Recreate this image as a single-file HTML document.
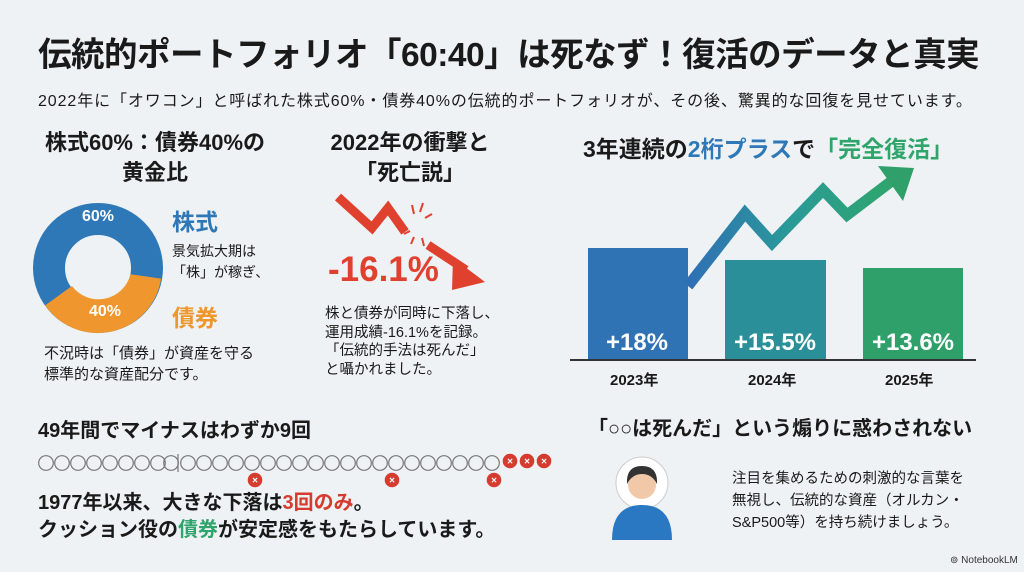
<!DOCTYPE html>
<html><head><meta charset="utf-8"><style>
body{margin:0;width:1024px;height:572px;background:#eef2f4;font-family:"Liberation Sans","Noto Sans CJK JP",sans-serif;color:#1a1a1a;position:relative;overflow:hidden}
.a{position:absolute;white-space:nowrap}
</style></head><body>
<div class="a" style="left:38px;top:27px;font-size:33.5px;font-weight:700;letter-spacing:-0.5px">伝統的ポートフォリオ「60:40」は死なず！復活のデータと真実</div>
<div class="a" style="left:38px;top:87px;font-size:16px;letter-spacing:0.9px">2022年に「オワコン」と呼ばれた株式60%・債券40%の伝統的ポートフォリオが、その後、驚異的な回復を見せています。</div>

<div class="a" style="left:30px;top:128px;font-size:22px;font-weight:700;text-align:center;line-height:30px;width:250px">株式60%：債券40%の<br>黄金比</div>
<svg class="a" style="left:0;top:0" width="1024" height="572">
<circle cx="98" cy="268" r="49" fill="none" stroke="#2f78b7" stroke-width="32"/>
<path d="M161.1,278.6 A64,64 0 0 1 45.1,305.4 L72,286 A33,33 0 0 0 130.5,274.2 Z" fill="#f0962e"/>
<text x="82" y="221" font-size="16" font-weight="700" fill="#fff" font-family="Liberation Sans">60%</text>
<text x="89" y="316" font-size="16" font-weight="700" fill="#fff" font-family="Liberation Sans">40%</text>
<path d="M338,197 L372,228 L388,208 L405,232" fill="none" stroke="#e0412f" stroke-width="9" stroke-linejoin="miter"/>
<path d="M428,245 L466,270" fill="none" stroke="#e0412f" stroke-width="9"/>
<polygon points="453,258 485,282 452,290" fill="#e0412f"/>
<g stroke="#e0412f" stroke-width="2"><line x1="412" y1="205" x2="414" y2="214"/><line x1="423" y1="203" x2="420" y2="212"/><line x1="432" y1="214" x2="425" y2="218"/><line x1="404" y1="234" x2="410" y2="231"/><line x1="411" y1="244" x2="414" y2="237"/><line x1="424" y1="246" x2="422" y2="238"/></g>
<defs><linearGradient id="g" x1="0" x2="1"><stop offset="0" stop-color="#2f6fb5"/><stop offset="0.5" stop-color="#2a9a98"/><stop offset="1" stop-color="#2fa56c"/></linearGradient></defs>
<rect x="588" y="248" width="100" height="112" fill="#2f73b5"/>
<rect x="725" y="260" width="101" height="100" fill="#2a8f98"/>
<rect x="863" y="268" width="100" height="92" fill="#2fa06a"/>
<line x1="570" y1="360" x2="976" y2="360" stroke="#333" stroke-width="2"/>
<polyline points="688,286 745,213 772,243 823,190 847,215 893,180" fill="none" stroke="url(#g)" stroke-width="11" stroke-linejoin="miter"/>
<polygon points="878,166 914,168 903,201" fill="#2fa06a"/>
<g font-size="24" font-weight="700" fill="#fff" text-anchor="middle" font-family="Liberation Sans">
<text x="637" y="350">+18%</text><text x="775" y="350">+15.5%</text><text x="913" y="350">+13.6%</text></g>
<g fill="none" stroke="#777" stroke-width="1.2">
<circle cx="46" cy="463" r="7.3"/><circle cx="62" cy="463" r="7.3"/><circle cx="78" cy="463" r="7.3"/><circle cx="94" cy="463" r="7.3"/><circle cx="110" cy="463" r="7.3"/><circle cx="126" cy="463" r="7.3"/><circle cx="142" cy="463" r="7.3"/><circle cx="158" cy="463" r="7.3"/><circle cx="171" cy="463" r="7.3"/>
<line x1="178" y1="454" x2="178" y2="472"/>
<circle cx="188" cy="463" r="7.3"/><circle cx="204" cy="463" r="7.3"/><circle cx="220" cy="463" r="7.3"/><circle cx="236" cy="463" r="7.3"/><circle cx="252" cy="463" r="7.3"/><circle cx="268" cy="463" r="7.3"/><circle cx="284" cy="463" r="7.3"/><circle cx="300" cy="463" r="7.3"/><circle cx="316" cy="463" r="7.3"/><circle cx="332" cy="463" r="7.3"/><circle cx="348" cy="463" r="7.3"/><circle cx="364" cy="463" r="7.3"/><circle cx="380" cy="463" r="7.3"/><circle cx="396" cy="463" r="7.3"/><circle cx="412" cy="463" r="7.3"/><circle cx="428" cy="463" r="7.3"/><circle cx="444" cy="463" r="7.3"/><circle cx="460" cy="463" r="7.3"/><circle cx="476" cy="463" r="7.3"/><circle cx="492" cy="463" r="7.3"/>
</g>
<g fill="#d63b2f"><circle cx="510" cy="461" r="7.3"/><circle cx="527" cy="461" r="7.3"/><circle cx="544" cy="461" r="7.3"/><circle cx="255" cy="480" r="7.3"/><circle cx="392" cy="480" r="7.3"/><circle cx="494" cy="480" r="7.3"/></g>
<g fill="#fff" font-size="10" font-weight="700" text-anchor="middle" font-family="Liberation Sans"><text x="510" y="464.5">×</text><text x="527" y="464.5">×</text><text x="544" y="464.5">×</text><text x="255" y="483.5">×</text><text x="392" y="483.5">×</text><text x="494" y="483.5">×</text></g>
<circle cx="642" cy="483" r="26" fill="#fff" stroke="#ccc"/>
<path d="M612,540 Q612,505 642,505 Q672,505 672,540 Z" fill="#2a78c2"/>
<circle cx="642" cy="485" r="14" fill="#f2c9a8"/>
<path d="M627,484 Q626,466 642,466 Q658,466 657,484 Q652,474 642,474 Q632,474 627,484Z" fill="#333"/>
</svg>
<div class="a" style="left:172px;top:203px;font-size:23px;font-weight:700;color:#2f78b7">株式</div>
<div class="a" style="left:172px;top:241px;font-size:14px;line-height:21px">景気拡大期は<br>「株」が稼ぎ、</div>
<div class="a" style="left:172px;top:299px;font-size:23px;font-weight:700;color:#f0962e">債券</div>
<div class="a" style="left:44px;top:343px;font-size:15px;line-height:21px">不況時は「債券」が資産を守る<br>標準的な資産配分です。</div>

<div class="a" style="left:300px;top:128px;font-size:22px;font-weight:700;text-align:center;line-height:30px;width:220px">2022年の衝撃と<br>「死亡説」</div>
<div class="a" style="left:328px;top:250px;font-size:35px;font-weight:700;color:#e0412f">-16.1%</div>
<div class="a" style="left:325px;top:305px;font-size:14.5px;line-height:18.5px">株と債券が同時に下落し、<br>運用成績-16.1%を記録。<br>「伝統的手法は死んだ」<br>と囁かれました。</div>

<div class="a" style="left:583px;top:130px;font-size:23px;font-weight:700">3年連続の<span style="color:#2f78b7">2桁プラス</span>で<span style="color:#2fa56c">「完全復活」</span></div>
<div class="a" style="left:610px;top:369px;font-size:15px;font-weight:700">2023年</div>
<div class="a" style="left:748px;top:369px;font-size:15px;font-weight:700">2024年</div>
<div class="a" style="left:885px;top:369px;font-size:15px;font-weight:700">2025年</div>

<div class="a" style="left:38px;top:414px;font-size:20px;font-weight:700">49年間でマイナスはわずか9回</div>
<div class="a" style="left:38px;top:490px;font-size:20px;font-weight:700;line-height:27px">1977年以来、大きな下落は<span style="color:#d63b2f">3回のみ</span>。<br>クッション役の<span style="color:#2fa56c">債券</span>が安定感をもたらしています。</div>

<div class="a" style="left:588px;top:412px;font-size:20px;font-weight:700">「○○は死んだ」という煽りに惑わされない</div>
<div class="a" style="left:732px;top:468px;font-size:14.5px;line-height:22px">注目を集めるための刺激的な言葉を<br>無視し、伝統的な資産（オルカン・<br>S&amp;P500等）を持ち続けましょう。</div>
<div class="a" style="left:950px;top:555px;font-size:10px;color:#333">⊚ NotebookLM</div>
</body></html>
